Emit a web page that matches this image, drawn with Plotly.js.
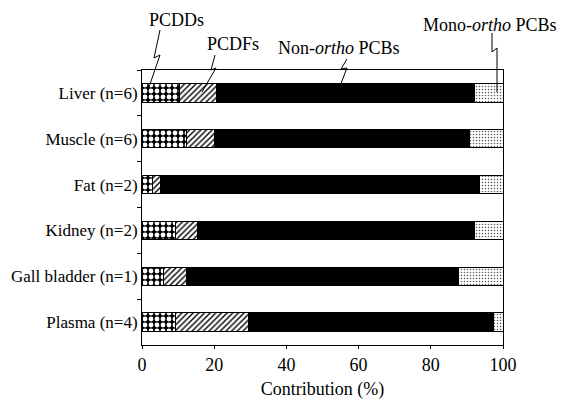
<!DOCTYPE html>
<html>
<head>
<meta charset="utf-8">
<script src="https://cdn.plot.ly/plotly-3.0.1.min.js"></script>
<style>html,body{margin:0;padding:0;background:#fff;}#chart{width:563px;height:400px;}</style>
</head>
<body>
<div id="chart"></div>
<script>
const categories = ["Liver (n=6)", "Muscle (n=6)", "Fat (n=2)", "Kidney (n=2)", "Gall bladder (n=1)", "Plasma (n=4)"];
const pcdds      = [10.5, 12.2, 3.0, 9.2, 5.9, 9.2];
const pcdfs      = [10.2, 8.0, 2.0, 6.3, 6.3, 20.4];
const nonOrtho   = [71.3, 70.5, 88.4, 76.6, 75.4, 67.7];
const monoOrtho  = [8.0, 9.3, 6.6, 7.9, 12.4, 2.7];
const xTicks     = [0, 20, 40, 60, 80, 100];

const seriesNames = ["PCDDs", "PCDFs", "Non-<i>ortho</i> PCBs", "Mono-<i>ortho</i> PCBs"];

const FONT = "Liberation Serif";
const line = {color: "#000", width: 1};

const traces = [
  {x: pcdds, y: categories, type: "bar", orientation: "h", name: "PCDDs", width: 0.4,
   marker: {color: "#000", line: line, pattern: {shape: ".", fillmode: "replace", bgcolor: "#000", fgcolor: "#fff", size: 6, solidity: 0.5}}},
  {x: pcdfs, y: categories, type: "bar", orientation: "h", name: "PCDFs", width: 0.4,
   marker: {color: "#fff", line: line, pattern: {shape: "/", fillmode: "replace", bgcolor: "#fff", fgcolor: "#000", size: 4, solidity: 0.35}}},
  {x: nonOrtho, y: categories, type: "bar", orientation: "h", name: "Non-ortho PCBs", width: 0.4,
   marker: {color: "#000", line: line}},
  {x: monoOrtho, y: categories, type: "bar", orientation: "h", name: "Mono-ortho PCBs", width: 0.4,
   marker: {color: "#fff", line: line, pattern: {shape: ".", fillmode: "replace", bgcolor: "#fff", fgcolor: "#555", size: 3, solidity: 0.2}}}
];

// plot area in pixels (for placing labels/leaders)
const L = 142, R = 503, T = 70, B = 345;
const px2x = p => (p - L) / (R - L) * 100;
const py2y = p => (B - p) / (B - T);

const labelPos = [[176, 20], [233, 44], [339, 48], [490, 25]];
const leaders = [
  [[160, 30], [154, 58], [160, 55], [148, 90]],
  [[215, 55], [211, 70], [216, 68], [202, 92]],
  [[347, 59], [341, 69], [347, 68], [340, 86]],
  [[492, 33], [492, 52], [497, 48], [497, 92]]
];

const annotations = seriesNames.map((t, i) => ({
  text: t, x: px2x(labelPos[i][0]), y: py2y(labelPos[i][1]), xref: "x", yref: "paper",
  showarrow: false, xanchor: "center", yanchor: "middle",
  font: {family: FONT, size: 18, color: "#000"}
}));

const shapes = leaders.map(pts => ({
  type: "path", xref: "x", yref: "paper",
  path: pts.map((p, j) => (j ? "L" : "M") + px2x(p[0]) + "," + py2y(p[1])).join(" "),
  line: {color: "#000", width: 1}
}));

const layout = {
  width: 563, height: 400,
  margin: {l: L, r: 563 - R, t: T, b: 400 - B},
  paper_bgcolor: "#fff", plot_bgcolor: "#fff",
  barmode: "stack", showlegend: false,
  font: {family: FONT, color: "#000"},
  xaxis: {range: [0, 100], tickvals: xTicks, ticktext: xTicks.map(String),
          showgrid: false, zeroline: false, showline: true, mirror: true, linecolor: "#000", linewidth: 1,
          ticks: "outside", ticklen: 3, tickcolor: "#000", tickfont: {family: FONT, size: 18, color: "#000"},
          title: {text: "Contribution (%)", font: {family: FONT, size: 18, color: "#000"}, standoff: 8}},
  yaxis: {autorange: "reversed", type: "category", showgrid: false, zeroline: false,
          showline: true, mirror: true, linecolor: "#000", linewidth: 1,
          ticks: "outside", tickson: "boundaries", ticklen: 4, tickcolor: "#000",
          tickfont: {family: FONT, size: 17, color: "#000"}},
  annotations: annotations,
  shapes: shapes
};

Plotly.newPlot("chart", traces, layout, {displayModeBar: false, staticPlot: true});
</script>
</body>
</html>
